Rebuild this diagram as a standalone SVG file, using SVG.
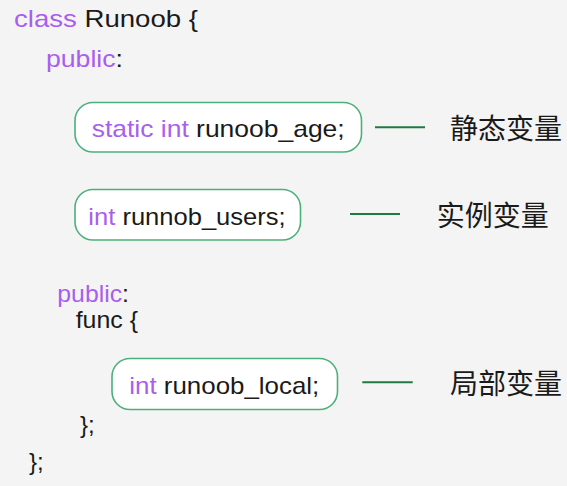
<svg xmlns="http://www.w3.org/2000/svg" width="567" height="486" viewBox="0 0 567 486">
<style>
.code{font-family:"Liberation Sans","Noto Sans",Arial,sans-serif;font-size:24px;fill:#1a1a1a}
.kw{fill:#a95ef0}
.box{fill:#ffffff;stroke:#4cb07a;stroke-width:1.6}
.lbl{font-family:"Noto Sans CJK SC","Noto Sans",sans-serif;font-size:28px;font-weight:400;fill:#1a1a1a}
.conn{stroke:#1e7a44;stroke-width:2;fill:none}
</style>
<rect x="0" y="0" width="567" height="486" fill="#f4f4f4"/>
<g id="code">
<text class="code" x="14" y="27" textLength="184" lengthAdjust="spacingAndGlyphs"><tspan class="kw">class</tspan> Runoob {</text>
<text class="code" x="46" y="67" textLength="77" lengthAdjust="spacingAndGlyphs"><tspan class="kw">public</tspan>:</text>
<text class="code" x="57.3" y="301.5" textLength="71.7" lengthAdjust="spacingAndGlyphs"><tspan class="kw">public</tspan>:</text>
<text class="code" x="75.7" y="328" textLength="62.3" lengthAdjust="spacingAndGlyphs">func {</text>
<text class="code" x="80" y="433">};</text>
<text class="code" x="29" y="470">};</text>
</g>
<g id="static-var">
<rect class="box" x="75" y="102.5" width="286.5" height="49.5" rx="18"/>
<text class="code" x="91.7" y="136.5" textLength="253" lengthAdjust="spacingAndGlyphs"><tspan class="kw">static int</tspan> runoob_age;</text>
</g>
<g id="instance-var">
<rect class="box" x="75" y="189.5" width="225.5" height="50.5" rx="18"/>
<text class="code" x="88.3" y="225" textLength="197.4" lengthAdjust="spacingAndGlyphs"><tspan class="kw">int</tspan> runnob_users;</text>
</g>
<g id="local-var">
<rect class="box" x="112" y="358.5" width="225.5" height="51" rx="18"/>
<text class="code" x="129.3" y="394" textLength="190" lengthAdjust="spacingAndGlyphs"><tspan class="kw">int</tspan> runoob_local;</text>
</g>
<g id="label-static">
<text class="lbl" x="450" y="138.5">静态变量</text>
</g>
<g id="label-instance">
<text class="lbl" x="436.7" y="225.5">实例变量</text>
</g>
<g id="label-local">
<text class="lbl" x="450" y="393.5">局部变量</text>
</g>
<g id="connectors">
<line class="conn" x1="375" y1="127.3" x2="425" y2="127.3"/>
<line class="conn" x1="350" y1="214" x2="400" y2="214"/>
<line class="conn" x1="362.3" y1="382.3" x2="412.7" y2="382.3"/>
</g>
</svg>
